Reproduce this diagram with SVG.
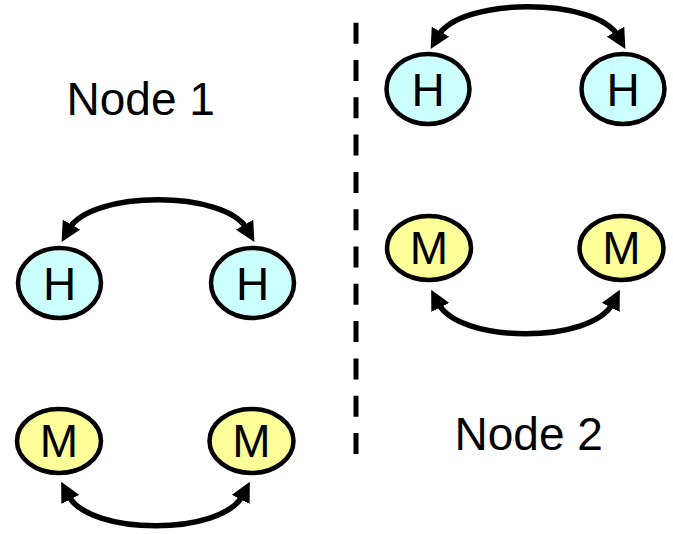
<svg xmlns="http://www.w3.org/2000/svg" width="673" height="534" viewBox="0 0 673 534">
  <defs>
    <marker id="ah" viewBox="0 0 20 20" markerUnits="userSpaceOnUse" markerWidth="20" markerHeight="20" refX="5" refY="10" orient="auto-start-reverse">
      <path d="M0,0 L20,10 L0,20 z" fill="#000"/>
    </marker>
  </defs>
  <style>
    .h { fill: #ccffff; stroke: #000; stroke-width: 4.5; }
    .m { fill: #ffff99; stroke: #000; stroke-width: 4.5; }
    .lbl { font-family: "Liberation Sans", Arial, sans-serif; font-size: 46px; fill: #000; text-anchor: middle; }
    .title { font-family: "Liberation Sans", Arial, sans-serif; font-size: 46px; fill: #000; }
    .arc { fill: none; stroke: #000; stroke-width: 5.5; marker-start: url(#ah); marker-end: url(#ah); }
  </style>
  <rect width="673" height="534" fill="#fff"/>
  <line x1="356" y1="22.7" x2="356" y2="454" stroke="#000" stroke-width="5" stroke-dasharray="21 16.3"/>
  <text class="title" x="66.5" y="115">Node 1</text>
  <text class="title" x="454.5" y="450">Node 2</text>
  <g id="connectors">
    <path class="arc" d="M69,229 C91,190 225,190 247,229"/>
    <path class="arc" d="M68,495 C89,536 222,536 243,495"/>
    <path class="arc" d="M438,36 C460,-3 596,-3 618,36"/>
    <path class="arc" d="M438,303 C459,344 592,344 613,303"/>
  </g>
  <g id="n1-h1"><ellipse class="h" cx="59.5" cy="283" rx="41.5" ry="35"/><text class="lbl" x="59.5" y="299.5">H</text></g>
  <g id="n1-h2"><ellipse class="h" cx="252.5" cy="283" rx="41.5" ry="35"/><text class="lbl" x="252.5" y="299.5">H</text></g>
  <g id="n1-m1"><ellipse class="m" cx="59" cy="441" rx="42" ry="32"/><text class="lbl" x="59" y="457">M</text></g>
  <g id="n1-m2"><ellipse class="m" cx="251.5" cy="441" rx="42" ry="32"/><text class="lbl" x="251.5" y="457">M</text></g>
  <g id="n2-h1"><ellipse class="h" cx="428" cy="89" rx="41.5" ry="35"/><text class="lbl" x="428" y="105.5">H</text></g>
  <g id="n2-h2"><ellipse class="h" cx="623" cy="89" rx="41.5" ry="35"/><text class="lbl" x="623" y="105.5">H</text></g>
  <g id="n2-m1"><ellipse class="m" cx="429" cy="248" rx="42" ry="32"/><text class="lbl" x="429" y="264">M</text></g>
  <g id="n2-m2"><ellipse class="m" cx="621.5" cy="248" rx="42" ry="32"/><text class="lbl" x="621.5" y="264">M</text></g>
</svg>
